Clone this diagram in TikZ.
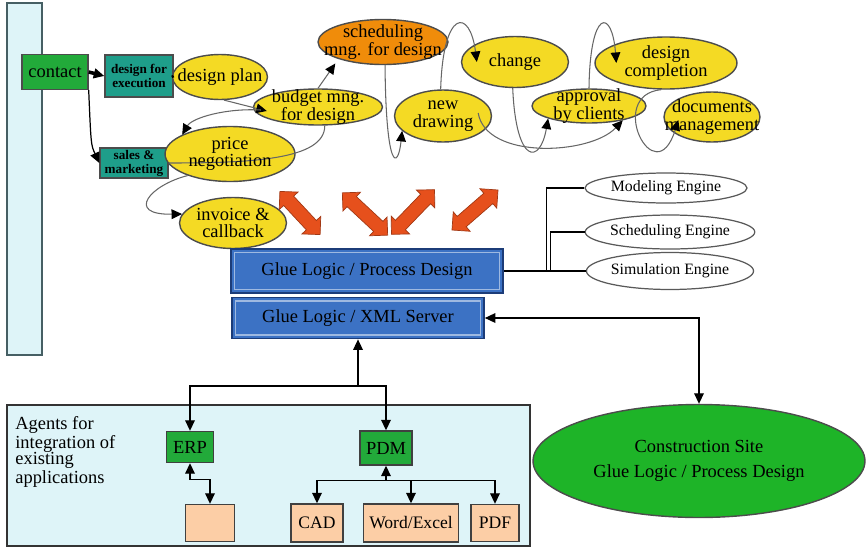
\documentclass[tikz,border=0pt]{standalone}
\usepackage{fontspec}
\setmainfont{Liberation Serif}
\usetikzlibrary{shapes.geometric, shapes.arrows, arrows.meta}

\definecolor{paleblue}{RGB}{222,244,248}
\definecolor{frame}{RGB}{70,95,100}
\definecolor{leaf}{RGB}{34,170,58}
\definecolor{tealbox}{RGB}{30,158,138}
\definecolor{yolk}{RGB}{244,218,36}
\definecolor{amber}{RGB}{240,140,10}
\definecolor{brick}{RGB}{230,80,28}
\definecolor{steel}{RGB}{60,114,196}
\definecolor{navyedge}{RGB}{28,60,120}
\definecolor{peach}{RGB}{252,206,166}
\definecolor{site}{RGB}{30,180,40}

\begin{document}
\begin{tikzpicture}[x=0.02cm, y=-0.02cm, >={Triangle[length=6pt, width=5.5pt, color=black]},
    font=\fontsize{10.5}{10}\selectfont]
  \tikzstyle{task}=[ellipse, draw=black!70, fill=yolk, line width=0.8pt, inner sep=0pt]
  \tikzstyle{txt}=[align=center, inner sep=0pt]
  \tikzstyle{dept}=[rectangle, draw=black!70, fill=tealbox, line width=0.8pt, inner sep=1pt,
    align=center, font=\fontsize{7.5}{8}\selectfont\bfseries]
  \tikzstyle{glue}=[rectangle, draw=navyedge, fill=steel, line width=1pt, inner sep=0pt,
    font=\fontsize{10.5}{12}\selectfont,
    path picture={\draw[steel!50!white, line width=0.8pt]
      ([shift={(2pt,-2pt)}]path picture bounding box.north west) rectangle
      ([shift={(-2pt,2pt)}]path picture bounding box.south east);}]
  \tikzstyle{engine}=[ellipse, draw=black!65, fill=white, line width=0.7pt, inner sep=0pt,
    font=\fontsize{9}{10}\selectfont]
  \tikzstyle{agent}=[rectangle, draw=black!75, fill=leaf, line width=0.8pt, inner sep=0pt]
  \tikzstyle{app}=[rectangle, draw=black!75, fill=peach, line width=0.8pt, inner sep=0pt,
    font=\fontsize{10}{11}\selectfont]
  \tikzstyle{swap}=[double arrow, draw=brick!70!black, fill=brick, line width=0.4pt,
    inner xsep=0pt, inner ysep=0.13cm, double arrow head extend=0.12cm]
  \tikzstyle{flow}=[draw=black!60, line width=0.6pt]
  \tikzstyle{wire}=[draw=black, line width=0.7pt]

  \useasboundingbox (0,0) rectangle (866,548);

  % side bar and agents frame
  \draw[draw=frame, fill=paleblue, line width=1pt] (7,3) rectangle (42,355);
  \draw[draw=black!80, fill=paleblue, line width=1.2pt] (7,405) rectangle (530,546);
  \node[anchor=north west, align=left, inner sep=0pt, font=\fontsize{10.5}{9.5}\selectfont]
    (agents) at (15,416) {Agents for\\integration of\\existing\\applications};

  % departments
  \node[rectangle, draw=black!70, fill=leaf, line width=0.8pt, minimum width=1.32cm,
    minimum height=0.7cm] (contact) at (55,72) {contact};
  \node[dept, minimum width=1.36cm, minimum height=0.84cm] (exec) at (139,76) {design for\\execution};
  \node[dept, minimum width=1.36cm, minimum height=0.54cm] (sales) at (134,163) {sales \&\\marketing};

  % process bubbles
  \node[task, minimum width=1.9cm, minimum height=0.9cm, label={[txt]center:design plan}] (plan) at (220,77) {};
  \node[task, minimum width=2.58cm, minimum height=0.72cm, label={[txt]center:budget mng.\\for design}] (budget) at (318,107) {};
  \node[task, minimum width=2.6cm, minimum height=1.1cm] (price) at (230,154) {};
  \node[task, minimum width=2.14cm, minimum height=1.02cm, label={[txt]center:invoice \&\\callback}] (invoice) at (233,223) {};
  \node[task, fill=amber, minimum width=2.6cm, minimum height=0.9cm, label={[txt]center:scheduling\\mng. for design}] (sched) at (383,42) {};
  \node[task, minimum width=2.14cm, minimum height=1.02cm, label={[txt]center:change}] (change) at (515,62) {};
  \node[task, minimum width=1.94cm, minimum height=1.04cm, label={[txt]center:new\\drawing}] (new) at (443,116) {};
  \node[task, minimum width=2.84cm, minimum height=1.04cm, label={[txt]center:design\\completion}] (comp) at (666,63) {};
  \node[task, minimum width=2.28cm, minimum height=0.68cm, label={[txt]center:approval\\by clients}] (appr) at (589,106) {};
  \node[task, minimum width=1.92cm, minimum height=1.0cm, label={[txt]center:documents\\management}] (docs) at (712,117) {};

  % the sales line runs under the price text
  \draw[flow] (sales.east) .. controls (250,163) and (325,160) .. (budget.-70);
  \node[txt] (pricetxt) at (price) {price\\negotiation};

  \draw[wire, ->, line width=2pt] (contact.east) -- (exec.west);
  \draw[wire, ->] (contact.south east) .. controls (91,145) .. (sales.west);
  \draw[wire, line width=1.5pt] (exec.east) -- (plan.west);
  \draw[flow, ->] (plan.-80) -- ([shift={(14,4)}]budget.west);
  \draw[flow, ->] ([shift={(8,3)}]budget.west) .. controls (225,108) and (192,118) .. (price.158);
  \draw[flow, ->] (budget.north) -- ([shift={(-8,3)}]sched.205);
  \draw[flow, ->] (price.207) .. controls (150,185) and (125,215) .. (invoice.170);
  \draw[flow, ->] (sched.-85) .. controls (386,172) and (398,170) .. (new.200);
  \draw[flow, ->] (new.95) .. controls (443,8) and (470,8) .. ([shift={(16,0)}]change.west);
  \draw[flow, ->] (change.-95) .. controls (516,165) and (540,165) .. (appr.197);
  \draw[flow, ->] ([shift={(-14,-3)}]new.east) .. controls (486,160) and (590,155) .. (appr.-23);
  \draw[flow, ->] (appr.north) .. controls (590,8) and (612,8) .. ([shift={(22,0)}]comp.west);
  \draw[flow, ->] (comp.-100) .. controls (605,95) and (655,195) .. ([shift={(15,3)}]docs.west);

  % exchange arrows
  \node[swap, minimum height=1.18cm, rotate=-47] (swap1) at (300,213) {};
  \node[swap, minimum height=1.24cm, rotate=-43] (swap2) at (365,214) {};
  \node[swap, minimum height=1.24cm, rotate=46] (swap3) at (413,212) {};
  \node[swap, minimum height=1.22cm, rotate=41] (swap4) at (475,210) {};

  % glue logic
  \node[glue, minimum width=5.44cm, minimum height=0.88cm] (pd) at (367,271) {Glue Logic / Process Design};
  \node[glue, minimum width=5.04cm, minimum height=0.82cm] (xml) at (358,318) {Glue Logic / XML Server};

  \node[engine, minimum width=3.24cm, minimum height=0.6cm] (mod) at (666,188) {Modeling Engine};
  \node[engine, minimum width=3.26cm, minimum height=0.68cm] (schd) at (670,232) {Scheduling Engine};
  \node[engine, minimum width=3.26cm, minimum height=0.74cm] (sim) at (670,271) {Simulation Engine};

  \draw[wire] (pd.east) -- (sim.west);
  \draw[wire] (pd.east) ++(43,0) |- (mod.west);
  \draw[wire] (pd.east) ++(47,0) |- (schd.west);

  \node[ellipse, draw=black!70, fill=site, line width=0.8pt, minimum width=6.64cm,
    minimum height=2.26cm, align=center, font=\fontsize{10.5}{14.5}\selectfont]
    (site) at (699,461) {Construction Site\\Glue Logic / Process Design};
  \draw[wire, <->] (xml.east) -| (site.north);

  % integration agents
  \node[agent, minimum width=0.94cm, minimum height=0.62cm] (erp) at (190,447) {ERP};
  \node[agent, minimum width=1.04cm, minimum height=0.68cm] (pdm) at (386,448) {PDM};
  \node[app, minimum width=0.98cm, minimum height=0.74cm] (blank) at (210,523) {};
  \node[app, minimum width=1.04cm, minimum height=0.76cm] (cad) at (317,523) {CAD};
  \node[app, minimum width=1.9cm, minimum height=0.76cm] (office) at (411,523) {Word/Excel};
  \node[app, minimum width=0.96cm, minimum height=0.74cm] (pdf) at (495,523) {PDF};

  \coordinate (hub) at (358,386);
  \draw[wire, ->] (hub) -- (xml.south);
  \draw[wire, ->] (hub) -| (erp.north);
  \draw[wire, ->] (hub) -| (pdm.north);
  \draw[wire, <->] (erp.south) -- ++(0,16) -| (blank.north);
  \draw[wire, <-] (pdm.south) -- ++(0,15) coordinate (bus);
  \draw[wire, ->] (bus) -| (cad.north);
  \draw[wire, ->] (bus) -| (office.north);
  \draw[wire, ->] (bus) -| (pdf.north);
\end{tikzpicture}
\end{document}
